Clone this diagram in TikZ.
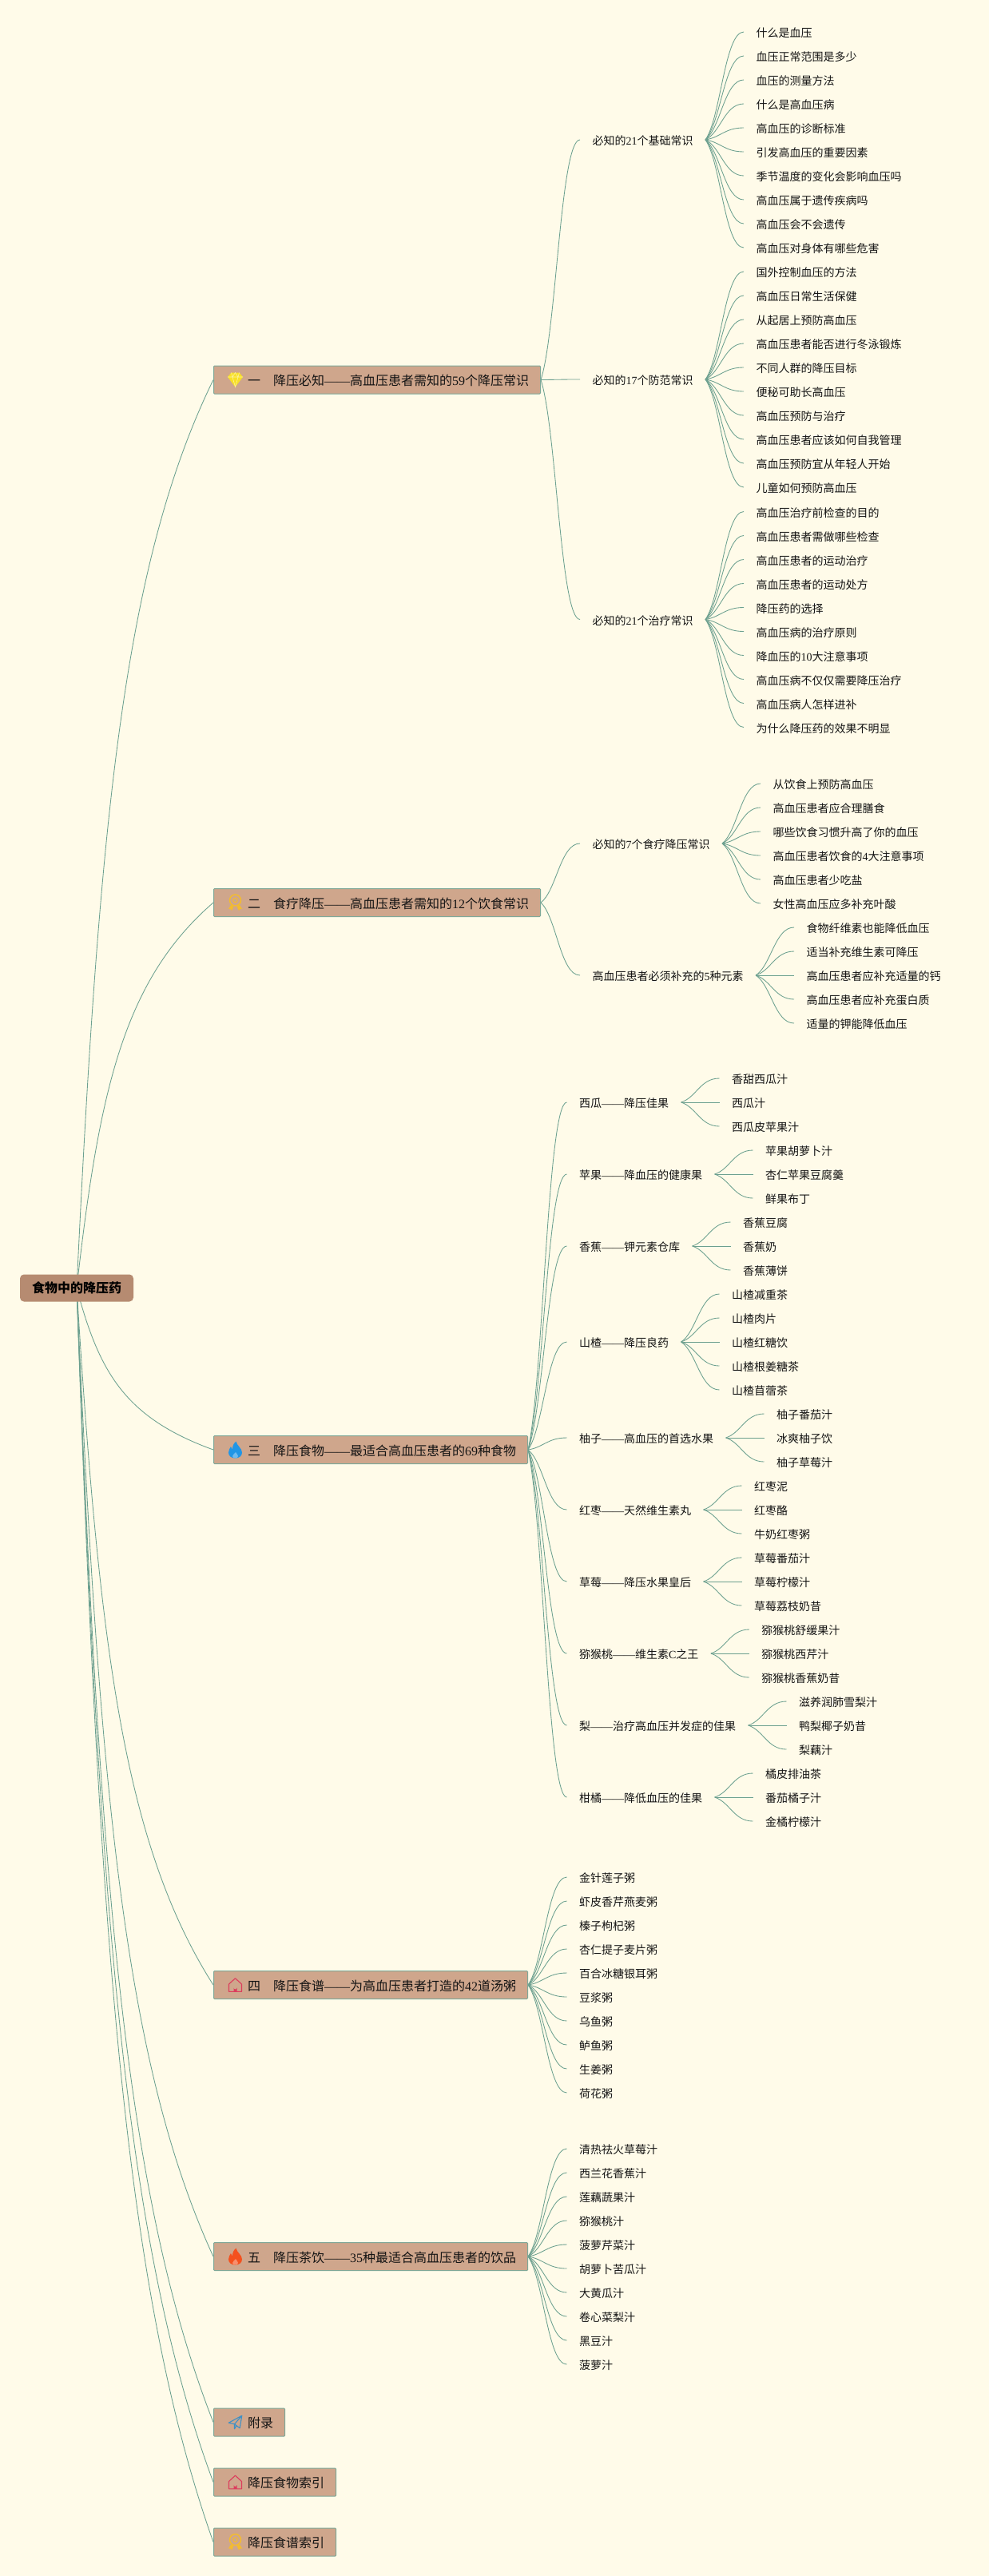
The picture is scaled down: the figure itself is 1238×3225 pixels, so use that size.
\documentclass[tikz,border=0pt]{standalone}
\usepackage{fontspec}
\usepackage{xcolor}
\usetikzlibrary{positioning, calc, backgrounds}
\setmainfont{Noto Sans CJK SC}
\newfontfamily\latn{Liberation Serif}
\newcommand{\dg}[1]{{\latn #1}}
\newcommand{\emd}{{\latn ——}}
\newcommand{\iconroom}{\hspace*{28pt}}
\definecolor{paper}{HTML}{FFFBE9}
\definecolor{clay}{HTML}{CFA68C}
\definecolor{rootclay}{HTML}{B68B71}
\definecolor{rim}{HTML}{7FA898}
\definecolor{wire}{HTML}{6CA08F}
\definecolor{ink}{HTML}{141414}
\definecolor{gemyellow}{HTML}{F8E026}
\definecolor{gold}{HTML}{F3BC2F}
\definecolor{flameblue}{HTML}{2196E6}
\definecolor{flamered}{HTML}{F4511E}
\definecolor{roofred}{HTML}{DC3C5C}
\definecolor{planeblue}{HTML}{3E90C6}

\tikzset{
  pics/gem/.style={code={
    \fill[gemyellow] (-9.5,-3.5) -- (-5,-9) -- (5,-9) -- (9.5,-3.5) -- (0,9) -- cycle;
    \draw[white!55!gemyellow, line width=.6pt] (-9.5,-3.5) -- (9.5,-3.5) (-5,-9) -- (-3.5,-3.5) -- (0,9) -- (3.5,-3.5) -- (5,-9) (-3.5,-3.5) -- (0,-9) -- (3.5,-3.5);
  }},
  pics/medal/.style={code={
    \draw[gold, line width=1.5pt] (0,-3) circle (7);
    \draw[gold, line width=1pt] (0,-3) circle (2.8);
    \fill[gold] (-5.5,3) -- (-8.5,8) -- (-6,8) -- (-4.5,10) -- (-2,5) -- cycle;
    \fill[gold] (5.5,3) -- (8.5,8) -- (6,8) -- (4.5,10) -- (2,5) -- cycle;
  }},
  pics/flame/.style={code={
    \fill[#1] (1,-10.5) .. controls (2,-5) and (8.5,-2) .. (8.5,3.5) .. controls (8.5,8) and (4.5,10.5) .. (0,10.5) .. controls (-4.5,10.5) and (-8.5,8) .. (-8.5,3.5) .. controls (-8.5,0) and (-6.5,-2) .. (-5.5,-4) .. controls (-5,-2) and (-4,-1) .. (-3.5,-1) .. controls (-3.5,-5) and (-2,-8) .. (1,-10.5) -- cycle;
    \fill[white!35!#1] (.5,3) .. controls (1.5,5) and (3.5,6) .. (3.5,8) .. controls (3.5,9.5) and (2,10.5) .. (0,10.5) .. controls (-2,10.5) and (-3.5,9.5) .. (-3.5,8) .. controls (-3.5,6) and (-.5,5) .. (.5,3) -- cycle;
  }},
  pics/house/.style={code={
    \draw[roofred, line width=1.1pt, line join=round] (-8,8.3) -- (-8,-1) -- (0,-8.3) -- (8,-1) -- (8,8.3) -- cycle;
    \fill[roofred] (-2,8.3) -- (-2,3.5) arc[start angle=180, end angle=0, radius=2] -- (2,8.3) -- cycle;
  }},
  pics/plane/.style={code={
    \draw[planeblue, line width=1.1pt, line join=round] (8.3,-8.3) -- (-8.3,.7) -- (-1,2.3) -- (8.3,-8.3) -- (5.7,7.3) -- (-1,2.3) -- (-1,8.3) -- (1.5,4.2);
  }}
}

\begin{document}
\begin{tikzpicture}[x=1pt, y=-1pt, text=ink,
  rootbox/.style={fill=rootclay, rounded corners=5pt, minimum height=34pt, inner xsep=15pt, inner ysep=0pt, text=black, font=\fontsize{16}{16}\selectfont\bfseries},
  branch/.style={draw=rim, fill=clay, line width=1pt, rounded corners=1pt, minimum height=35pt, inner xsep=14.5pt, inner ysep=0pt, text height=15pt, text depth=1pt, anchor=west, font=\fontsize{16}{16}\selectfont},
  leaf/.style={minimum height=30pt, inner xsep=15.5pt, inner ysep=0pt, outer sep=0pt, text height=14pt, text depth=1pt, font=\fontsize{14}{14}\selectfont},
  under/.style={below=0pt of #1.south west, anchor=north west},
  wave/.style={line width=.85pt, color=wire, to path={let \p1=(\tikztostart), \p2=(\tikztotarget) in .. controls ({\x1+.4*(\x2-\x1)},{\y1+.2*(\y2-\y1)}) and ({\x1+.5*(\x2-\x1)},\y2) .. (\tikztotarget)}},
  trunk/.style={line width=.85pt, color=wire, to path={let \p1=(\tikztostart), \p2=(\tikztotarget) in .. controls ({\x1+.165*(\x2-\x1)},{\y1+.52*(\y2-\y1)}) and ({\x1+.35*(\x2-\x1)},{\y1+.8*(\y2-\y1)}) .. (\tikztotarget)}}]
\begin{scope}[on background layer]
\fill[paper] (0,0) rectangle (1238,3225);
\end{scope}
\node[rootbox] (root) at (96,1612.5) {食物中的降压药};
\node[branch] (know) at (267,475.5) {\iconroom 一　降压必知\emd 高血压患者需知的\dg{59}个降压常识};
\node[branch] (cure) at (267,1130) {\iconroom 二　食疗降压\emd 高血压患者需知的\dg{12}个饮食常识};
\node[branch] (foods) at (267,1815) {\iconroom 三　降压食物\emd 最适合高血压患者的\dg{69}种食物};
\node[branch] (soups) at (267,2485) {\iconroom 四　降压食谱\emd 为高血压患者打造的\dg{42}道汤粥};
\node[branch] (teas) at (267,2825) {\iconroom 五　降压茶饮\emd \dg{35}种最适合高血压患者的饮品};
\node[branch] (appendix) at (267,3032.5) {\iconroom 附录};
\node[branch] (foodindex) at (267,3107.5) {\iconroom 降压食物索引};
\node[branch] (soupindex) at (267,3182.5) {\iconroom 降压食谱索引};
\pic at ($(know.west)+(27.5,0)$) {gem};
\pic at ($(cure.west)+(27.5,0)$) {medal};
\pic at ($(foods.west)+(27.5,0)$) {flame=flameblue};
\pic at ($(soups.west)+(27.5,0)$) {house};
\pic at ($(teas.west)+(27.5,0)$) {flame=flamered};
\pic at ($(appendix.west)+(27.5,0)$) {plane};
\pic at ($(foodindex.west)+(27.5,0)$) {house};
\pic at ($(soupindex.west)+(27.5,0)$) {medal};

\node[leaf, right=49pt of know, yshift=300.5pt] (basic) {必知的\dg{21}个基础常识};
\node[leaf, right=49pt of know, yshift=.5pt] (prevent) {必知的\dg{17}个防范常识};
\node[leaf, right=49pt of know, yshift=-300pt] (treat) {必知的\dg{21}个治疗常识};
\node[leaf, right=48pt of basic, yshift=135pt] (basic1) {什么是血压};
\node[leaf, under=basic1] (basic2) {血压正常范围是多少};
\node[leaf, under=basic2] (basic3) {血压的测量方法};
\node[leaf, under=basic3] (basic4) {什么是高血压病};
\node[leaf, under=basic4] (basic5) {高血压的诊断标准};
\node[leaf, under=basic5] (basic6) {引发高血压的重要因素};
\node[leaf, under=basic6] (basic7) {季节温度的变化会影响血压吗};
\node[leaf, under=basic7] (basic8) {高血压属于遗传疾病吗};
\node[leaf, under=basic8] (basic9) {高血压会不会遗传};
\node[leaf, under=basic9] (basic10) {高血压对身体有哪些危害};
\node[leaf, right=48pt of prevent, yshift=135pt] (prevent1) {国外控制血压的方法};
\node[leaf, under=prevent1] (prevent2) {高血压日常生活保健};
\node[leaf, under=prevent2] (prevent3) {从起居上预防高血压};
\node[leaf, under=prevent3] (prevent4) {高血压患者能否进行冬泳锻炼};
\node[leaf, under=prevent4] (prevent5) {不同人群的降压目标};
\node[leaf, under=prevent5] (prevent6) {便秘可助长高血压};
\node[leaf, under=prevent6] (prevent7) {高血压预防与治疗};
\node[leaf, under=prevent7] (prevent8) {高血压患者应该如何自我管理};
\node[leaf, under=prevent8] (prevent9) {高血压预防宜从年轻人开始};
\node[leaf, under=prevent9] (prevent10) {儿童如何预防高血压};
\node[leaf, right=48pt of treat, yshift=135pt] (treat1) {高血压治疗前检查的目的};
\node[leaf, under=treat1] (treat2) {高血压患者需做哪些检查};
\node[leaf, under=treat2] (treat3) {高血压患者的运动治疗};
\node[leaf, under=treat3] (treat4) {高血压患者的运动处方};
\node[leaf, under=treat4] (treat5) {降压药的选择};
\node[leaf, under=treat5] (treat6) {高血压病的治疗原则};
\node[leaf, under=treat6] (treat7) {降血压的\dg{10}大注意事项};
\node[leaf, under=treat7] (treat8) {高血压病不仅仅需要降压治疗};
\node[leaf, under=treat8] (treat9) {高血压病人怎样进补};
\node[leaf, under=treat9] (treat10) {为什么降压药的效果不明显};

\node[leaf, right=49pt of cure, yshift=74pt] (diet) {必知的\dg{7}个食疗降压常识};
\node[leaf, right=49pt of cure, yshift=-91pt] (element) {高血压患者必须补充的\dg{5}种元素};
\node[leaf, right=48pt of diet, yshift=75pt] (diet1) {从饮食上预防高血压};
\node[leaf, under=diet1] (diet2) {高血压患者应合理膳食};
\node[leaf, under=diet2] (diet3) {哪些饮食习惯升高了你的血压};
\node[leaf, under=diet3] (diet4) {高血压患者饮食的\dg{4}大注意事项};
\node[leaf, under=diet4] (diet5) {高血压患者少吃盐};
\node[leaf, under=diet5] (diet6) {女性高血压应多补充叶酸};
\node[leaf, right=48pt of element, yshift=60pt] (element1) {食物纤维素也能降低血压};
\node[leaf, under=element1] (element2) {适当补充维生素可降压};
\node[leaf, under=element2] (element3) {高血压患者应补充适量的钙};
\node[leaf, under=element3] (element4) {高血压患者应补充蛋白质};
\node[leaf, under=element4] (element5) {适量的钾能降低血压};

\node[leaf, right=48.5pt of foods, yshift=435pt] (melon) {西瓜\emd 降压佳果};
\node[leaf, right=48.5pt of foods, yshift=345pt] (apple) {苹果\emd 降血压的健康果};
\node[leaf, right=48.5pt of foods, yshift=255pt] (banana) {香蕉\emd 钾元素仓库};
\node[leaf, right=48.5pt of foods, yshift=135pt] (hawthorn) {山楂\emd 降压良药};
\node[leaf, right=48.5pt of foods, yshift=15pt] (pomelo) {柚子\emd 高血压的首选水果};
\node[leaf, right=48.5pt of foods, yshift=-75pt] (jujube) {红枣\emd 天然维生素丸};
\node[leaf, right=48.5pt of foods, yshift=-165pt] (berry) {草莓\emd 降压水果皇后};
\node[leaf, right=48.5pt of foods, yshift=-255pt] (kiwi) {猕猴桃\emd 维生素\dg{C}之王};
\node[leaf, right=48.5pt of foods, yshift=-345pt] (pear) {梨\emd 治疗高血压并发症的佳果};
\node[leaf, right=48.5pt of foods, yshift=-435pt] (citrus) {柑橘\emd 降低血压的佳果};
\node[leaf, right=48pt of melon, yshift=30pt] (melon1) {香甜西瓜汁};
\node[leaf, under=melon1] (melon2) {西瓜汁};
\node[leaf, under=melon2] (melon3) {西瓜皮苹果汁};
\node[leaf, right=48pt of apple, yshift=30pt] (apple1) {苹果胡萝卜汁};
\node[leaf, under=apple1] (apple2) {杏仁苹果豆腐羹};
\node[leaf, under=apple2] (apple3) {鲜果布丁};
\node[leaf, right=48pt of banana, yshift=30pt] (banana1) {香蕉豆腐};
\node[leaf, under=banana1] (banana2) {香蕉奶};
\node[leaf, under=banana2] (banana3) {香蕉薄饼};
\node[leaf, right=48pt of hawthorn, yshift=60pt] (hawthorn1) {山楂减重茶};
\node[leaf, under=hawthorn1] (hawthorn2) {山楂肉片};
\node[leaf, under=hawthorn2] (hawthorn3) {山楂红糖饮};
\node[leaf, under=hawthorn3] (hawthorn4) {山楂根姜糖茶};
\node[leaf, under=hawthorn4] (hawthorn5) {山楂苜蓿茶};
\node[leaf, right=48pt of pomelo, yshift=30pt] (pomelo1) {柚子番茄汁};
\node[leaf, under=pomelo1] (pomelo2) {冰爽柚子饮};
\node[leaf, under=pomelo2] (pomelo3) {柚子草莓汁};
\node[leaf, right=48pt of jujube, yshift=30pt] (jujube1) {红枣泥};
\node[leaf, under=jujube1] (jujube2) {红枣酪};
\node[leaf, under=jujube2] (jujube3) {牛奶红枣粥};
\node[leaf, right=48pt of berry, yshift=30pt] (berry1) {草莓番茄汁};
\node[leaf, under=berry1] (berry2) {草莓柠檬汁};
\node[leaf, under=berry2] (berry3) {草莓荔枝奶昔};
\node[leaf, right=48pt of kiwi, yshift=30pt] (kiwi1) {猕猴桃舒缓果汁};
\node[leaf, under=kiwi1] (kiwi2) {猕猴桃西芹汁};
\node[leaf, under=kiwi2] (kiwi3) {猕猴桃香蕉奶昔};
\node[leaf, right=48pt of pear, yshift=30pt] (pear1) {滋养润肺雪梨汁};
\node[leaf, under=pear1] (pear2) {鸭梨椰子奶昔};
\node[leaf, under=pear2] (pear3) {梨藕汁};
\node[leaf, right=48pt of citrus, yshift=30pt] (citrus1) {橘皮排油茶};
\node[leaf, under=citrus1] (citrus2) {番茄橘子汁};
\node[leaf, under=citrus2] (citrus3) {金橘柠檬汁};

\node[leaf, right=48.5pt of soups, yshift=135pt] (soup1) {金针莲子粥};
\node[leaf, under=soup1] (soup2) {虾皮香芹燕麦粥};
\node[leaf, under=soup2] (soup3) {榛子枸杞粥};
\node[leaf, under=soup3] (soup4) {杏仁提子麦片粥};
\node[leaf, under=soup4] (soup5) {百合冰糖银耳粥};
\node[leaf, under=soup5] (soup6) {豆浆粥};
\node[leaf, under=soup6] (soup7) {乌鱼粥};
\node[leaf, under=soup7] (soup8) {鲈鱼粥};
\node[leaf, under=soup8] (soup9) {生姜粥};
\node[leaf, under=soup9] (soup10) {荷花粥};

\node[leaf, right=48.5pt of teas, yshift=135pt] (tea1) {清热祛火草莓汁};
\node[leaf, under=tea1] (tea2) {西兰花香蕉汁};
\node[leaf, under=tea2] (tea3) {莲藕蔬果汁};
\node[leaf, under=tea3] (tea4) {猕猴桃汁};
\node[leaf, under=tea4] (tea5) {菠萝芹菜汁};
\node[leaf, under=tea5] (tea6) {胡萝卜苦瓜汁};
\node[leaf, under=tea6] (tea7) {大黄瓜汁};
\node[leaf, under=tea7] (tea8) {卷心菜梨汁};
\node[leaf, under=tea8] (tea9) {黑豆汁};
\node[leaf, under=tea9] (tea10) {菠萝汁};

\begin{scope}[on background layer]
\draw[trunk] (root.center) to (know.west);
\draw[trunk] (root.center) to (cure.west);
\draw[trunk] (root.center) to (foods.west);
\draw[trunk] (root.center) to (soups.west);
\draw[trunk] (root.center) to (teas.west);
\draw[trunk] (root.center) to (appendix.west);
\draw[trunk] (root.center) to (foodindex.west);
\draw[trunk] (root.center) to (soupindex.west);
\draw[wave] (know.east) to (basic.west);
\draw[wave] (know.east) to (prevent.west);
\draw[wave] (know.east) to (treat.west);
\draw[wave] (basic.east) to (basic1.west);
\draw[wave] (basic.east) to (basic2.west);
\draw[wave] (basic.east) to (basic3.west);
\draw[wave] (basic.east) to (basic4.west);
\draw[wave] (basic.east) to (basic5.west);
\draw[wave] (basic.east) to (basic6.west);
\draw[wave] (basic.east) to (basic7.west);
\draw[wave] (basic.east) to (basic8.west);
\draw[wave] (basic.east) to (basic9.west);
\draw[wave] (basic.east) to (basic10.west);
\draw[wave] (prevent.east) to (prevent1.west);
\draw[wave] (prevent.east) to (prevent2.west);
\draw[wave] (prevent.east) to (prevent3.west);
\draw[wave] (prevent.east) to (prevent4.west);
\draw[wave] (prevent.east) to (prevent5.west);
\draw[wave] (prevent.east) to (prevent6.west);
\draw[wave] (prevent.east) to (prevent7.west);
\draw[wave] (prevent.east) to (prevent8.west);
\draw[wave] (prevent.east) to (prevent9.west);
\draw[wave] (prevent.east) to (prevent10.west);
\draw[wave] (treat.east) to (treat1.west);
\draw[wave] (treat.east) to (treat2.west);
\draw[wave] (treat.east) to (treat3.west);
\draw[wave] (treat.east) to (treat4.west);
\draw[wave] (treat.east) to (treat5.west);
\draw[wave] (treat.east) to (treat6.west);
\draw[wave] (treat.east) to (treat7.west);
\draw[wave] (treat.east) to (treat8.west);
\draw[wave] (treat.east) to (treat9.west);
\draw[wave] (treat.east) to (treat10.west);
\draw[wave] (cure.east) to (diet.west);
\draw[wave] (cure.east) to (element.west);
\draw[wave] (diet.east) to (diet1.west);
\draw[wave] (diet.east) to (diet2.west);
\draw[wave] (diet.east) to (diet3.west);
\draw[wave] (diet.east) to (diet4.west);
\draw[wave] (diet.east) to (diet5.west);
\draw[wave] (diet.east) to (diet6.west);
\draw[wave] (element.east) to (element1.west);
\draw[wave] (element.east) to (element2.west);
\draw[wave] (element.east) to (element3.west);
\draw[wave] (element.east) to (element4.west);
\draw[wave] (element.east) to (element5.west);
\draw[wave] (foods.east) to (melon.west);
\draw[wave] (foods.east) to (apple.west);
\draw[wave] (foods.east) to (banana.west);
\draw[wave] (foods.east) to (hawthorn.west);
\draw[wave] (foods.east) to (pomelo.west);
\draw[wave] (foods.east) to (jujube.west);
\draw[wave] (foods.east) to (berry.west);
\draw[wave] (foods.east) to (kiwi.west);
\draw[wave] (foods.east) to (pear.west);
\draw[wave] (foods.east) to (citrus.west);
\draw[wave] (melon.east) to (melon1.west);
\draw[wave] (melon.east) to (melon2.west);
\draw[wave] (melon.east) to (melon3.west);
\draw[wave] (apple.east) to (apple1.west);
\draw[wave] (apple.east) to (apple2.west);
\draw[wave] (apple.east) to (apple3.west);
\draw[wave] (banana.east) to (banana1.west);
\draw[wave] (banana.east) to (banana2.west);
\draw[wave] (banana.east) to (banana3.west);
\draw[wave] (hawthorn.east) to (hawthorn1.west);
\draw[wave] (hawthorn.east) to (hawthorn2.west);
\draw[wave] (hawthorn.east) to (hawthorn3.west);
\draw[wave] (hawthorn.east) to (hawthorn4.west);
\draw[wave] (hawthorn.east) to (hawthorn5.west);
\draw[wave] (pomelo.east) to (pomelo1.west);
\draw[wave] (pomelo.east) to (pomelo2.west);
\draw[wave] (pomelo.east) to (pomelo3.west);
\draw[wave] (jujube.east) to (jujube1.west);
\draw[wave] (jujube.east) to (jujube2.west);
\draw[wave] (jujube.east) to (jujube3.west);
\draw[wave] (berry.east) to (berry1.west);
\draw[wave] (berry.east) to (berry2.west);
\draw[wave] (berry.east) to (berry3.west);
\draw[wave] (kiwi.east) to (kiwi1.west);
\draw[wave] (kiwi.east) to (kiwi2.west);
\draw[wave] (kiwi.east) to (kiwi3.west);
\draw[wave] (pear.east) to (pear1.west);
\draw[wave] (pear.east) to (pear2.west);
\draw[wave] (pear.east) to (pear3.west);
\draw[wave] (citrus.east) to (citrus1.west);
\draw[wave] (citrus.east) to (citrus2.west);
\draw[wave] (citrus.east) to (citrus3.west);
\draw[wave] (soups.east) to (soup1.west);
\draw[wave] (soups.east) to (soup2.west);
\draw[wave] (soups.east) to (soup3.west);
\draw[wave] (soups.east) to (soup4.west);
\draw[wave] (soups.east) to (soup5.west);
\draw[wave] (soups.east) to (soup6.west);
\draw[wave] (soups.east) to (soup7.west);
\draw[wave] (soups.east) to (soup8.west);
\draw[wave] (soups.east) to (soup9.west);
\draw[wave] (soups.east) to (soup10.west);
\draw[wave] (teas.east) to (tea1.west);
\draw[wave] (teas.east) to (tea2.west);
\draw[wave] (teas.east) to (tea3.west);
\draw[wave] (teas.east) to (tea4.west);
\draw[wave] (teas.east) to (tea5.west);
\draw[wave] (teas.east) to (tea6.west);
\draw[wave] (teas.east) to (tea7.west);
\draw[wave] (teas.east) to (tea8.west);
\draw[wave] (teas.east) to (tea9.west);
\draw[wave] (teas.east) to (tea10.west);
\end{scope}
\end{tikzpicture}
\end{document}
